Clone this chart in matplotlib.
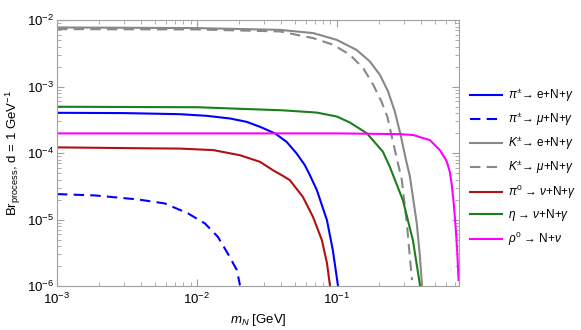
import matplotlib
matplotlib.use("Agg")
import matplotlib.pyplot as plt
from matplotlib.ticker import LogLocator, NullFormatter

plt.rcParams['font.family'] = ['Liberation Sans', 'DejaVu Sans']
plt.rcParams['mathtext.fontset'] = 'custom'
plt.rcParams['mathtext.rm'] = 'Liberation Sans'
plt.rcParams['mathtext.it'] = 'Liberation Sans:italic'
plt.rcParams['mathtext.bf'] = 'Liberation Sans:bold'

# pi+- -> e + N + gamma
pie_m = [1e-3, 3e-3, 0.00757, 0.0117, 0.0172, 0.0226, 0.0282, 0.0361, 0.0437, 0.0515, 0.059, 0.0641,
         0.0719, 0.0849, 0.0935, 0.1016]
pie_br = [4.04e-4, 4.0e-4, 3.85e-4, 3.64e-4, 3.32e-4, 2.96e-4, 2.49e-4, 1.98e-4, 1.48e-4, 9.9e-5, 6.6e-5, 4.67e-5,
          2.78e-5, 9.8e-6, 3.48e-6, 1.04e-6]

# pi+- -> mu + N + gamma
pimu_m = [1e-3, 1.87e-3, 3.79e-3, 5.9e-3, 8.63e-3, 0.0114, 0.0141, 0.0166, 0.0193, 0.0203]
pimu_br = [2.42e-5, 2.31e-5, 2.01e-5, 1.75e-5, 1.24e-5, 8.77e-6, 5.52e-6, 3.10e-6, 1.74e-6, 1.03e-6]

# K+- -> e + N + gamma
ke_m = [1e-3, 0.01, 0.0392, 0.0678, 0.0995, 0.138, 0.172, 0.203, 0.232, 0.259, 0.285, 0.311, 0.332, 0.372, 0.392, 0.405]
ke_br = [7.76e-3, 7.59e-3, 7.14e-3, 6.38e-3, 5.06e-3, 3.57e-3, 2.39e-3, 1.50e-3, 8.47e-4, 4.24e-4, 1.9e-4, 8.0e-5,
         4.5e-5, 8.8e-6, 2.75e-6, 1.04e-6]

# K+- -> mu + N + gamma
kmu_m = [1e-3, 0.01, 0.0392, 0.0678, 0.0942, 0.124, 0.154, 0.182, 0.208, 0.229, 0.251, 0.291, 0.316, 0.332, 0.344]
kmu_br = [7.33e-3, 7.24e-3, 6.76e-3, 5.36e-3, 4.26e-3, 3.01e-3, 1.90e-3, 1.06e-3, 5.98e-4, 3.56e-4, 1.5e-4,
          3.93e-5, 8.77e-6, 2.75e-6, 1.23e-6]

# pi0 -> nu + N + gamma
pi0_m = [1e-3, 4.6e-3, 0.00757, 0.0131, 0.0203, 0.0282, 0.0351, 0.0403, 0.0461, 0.0571, 0.0675, 0.0781, 0.0849, 0.0891]
pi0_br = [1.22e-4, 1.18e-4, 1.17e-4, 1.11e-4, 9.3e-5, 7.4e-5, 5.5e-5, 4.67e-5, 3.93e-5, 2.2e-5, 1.10e-5, 4.92e-6,
          2.22e-6, 1.04e-6]

# eta -> nu + N + gamma
eta_m = [1e-3, 0.01, 0.0411, 0.0719, 0.100, 0.124, 0.164, 0.213, 0.239, 0.296, 0.349, 0.392]
eta_br = [4.98e-4, 4.9e-4, 4.4e-4, 4.07e-4, 3.55e-4, 2.88e-4, 1.98e-4, 1.05e-4, 6.2e-5, 1.96e-5, 4.92e-6, 1.04e-6]

# rho0 -> N + nu
rho_m = [1e-3, 0.1, 0.282, 0.351, 0.461, 0.544, 0.608, 0.641, 0.662, 0.685, 0.708, 0.726, 0.740]
rho_br = [1.98e-4, 1.98e-4, 1.93e-4, 1.87e-4, 1.57e-4, 1.11e-4, 7.6e-5, 5.2e-5, 3.3e-5, 1.65e-5, 6.95e-6, 2.92e-6, 1.23e-6]

fig = plt.figure(figsize=(5.81, 3.30), dpi=100)
ax = fig.add_axes([0.098, 0.133, 0.692, 0.806])

lw = 1.5
dash = (0, (5, 3))
ax.plot(pie_m, pie_br, color='#0000ff', lw=lw, label=r'$\pi^{\pm}$→ e+N+$\gamma$')
ax.plot(pimu_m, pimu_br, color='#0000ff', lw=lw, ls=dash, label=r'$\pi^{\pm}$→ $\mu$+N+$\gamma$')
ax.plot(ke_m, ke_br, color='#888888', lw=lw, label=r'$K^{\pm}$→ e+N+$\gamma$')
ax.plot(kmu_m, kmu_br, color='#888888', lw=lw, ls=dash, label=r'$K^{\pm}$→ $\mu$+N+$\gamma$')
ax.plot(pi0_m, pi0_br, color='#b01010', lw=lw, label=r'$\pi^0$ → $\nu$+N+$\gamma$')
ax.plot(eta_m, eta_br, color='#1a7f1a', lw=lw, label=r'$\eta$ → $\nu$+N+$\gamma$')
ax.plot(rho_m, rho_br, color='#ff00ff', lw=lw, label=r'$\rho^0$ → N+$\nu$')

ax.set_xscale('log')
ax.set_yscale('log')
ax.set_xlim(1e-3, 0.745)
ax.set_ylim(1e-6, 1e-2)

for s in ax.spines.values():
    s.set_color('#a0a0a0')
ax.xaxis.set_minor_locator(LogLocator(base=10, subs=range(2, 10)))
ax.yaxis.set_minor_locator(LogLocator(base=10, subs=range(2, 10)))
ax.xaxis.set_minor_formatter(NullFormatter())
ax.yaxis.set_minor_formatter(NullFormatter())
ax.tick_params(which='both', direction='in', top=True, right=True, color='#a0a0a0', labelsize=9.5, pad=2)
ax.tick_params(axis='x', which='major', pad=4)
ax.tick_params(which='major', length=5)
ax.tick_params(which='minor', length=3)

ax.set_xlabel(r'$m_N$ [GeV]', fontsize=9.5, labelpad=4)
ax.set_ylabel(r'Br$_{\rm process}$, d = 1 GeV$^{-1}$', fontsize=9.5, labelpad=3)

fig.legend(loc='upper left', bbox_to_anchor=(0.809, 0.737), frameon=False, fontsize=8.5,
           borderpad=0, borderaxespad=0, handlelength=2.7, labelspacing=0.55, handletextpad=0.5)

fig.savefig('out.png', dpi=100)
